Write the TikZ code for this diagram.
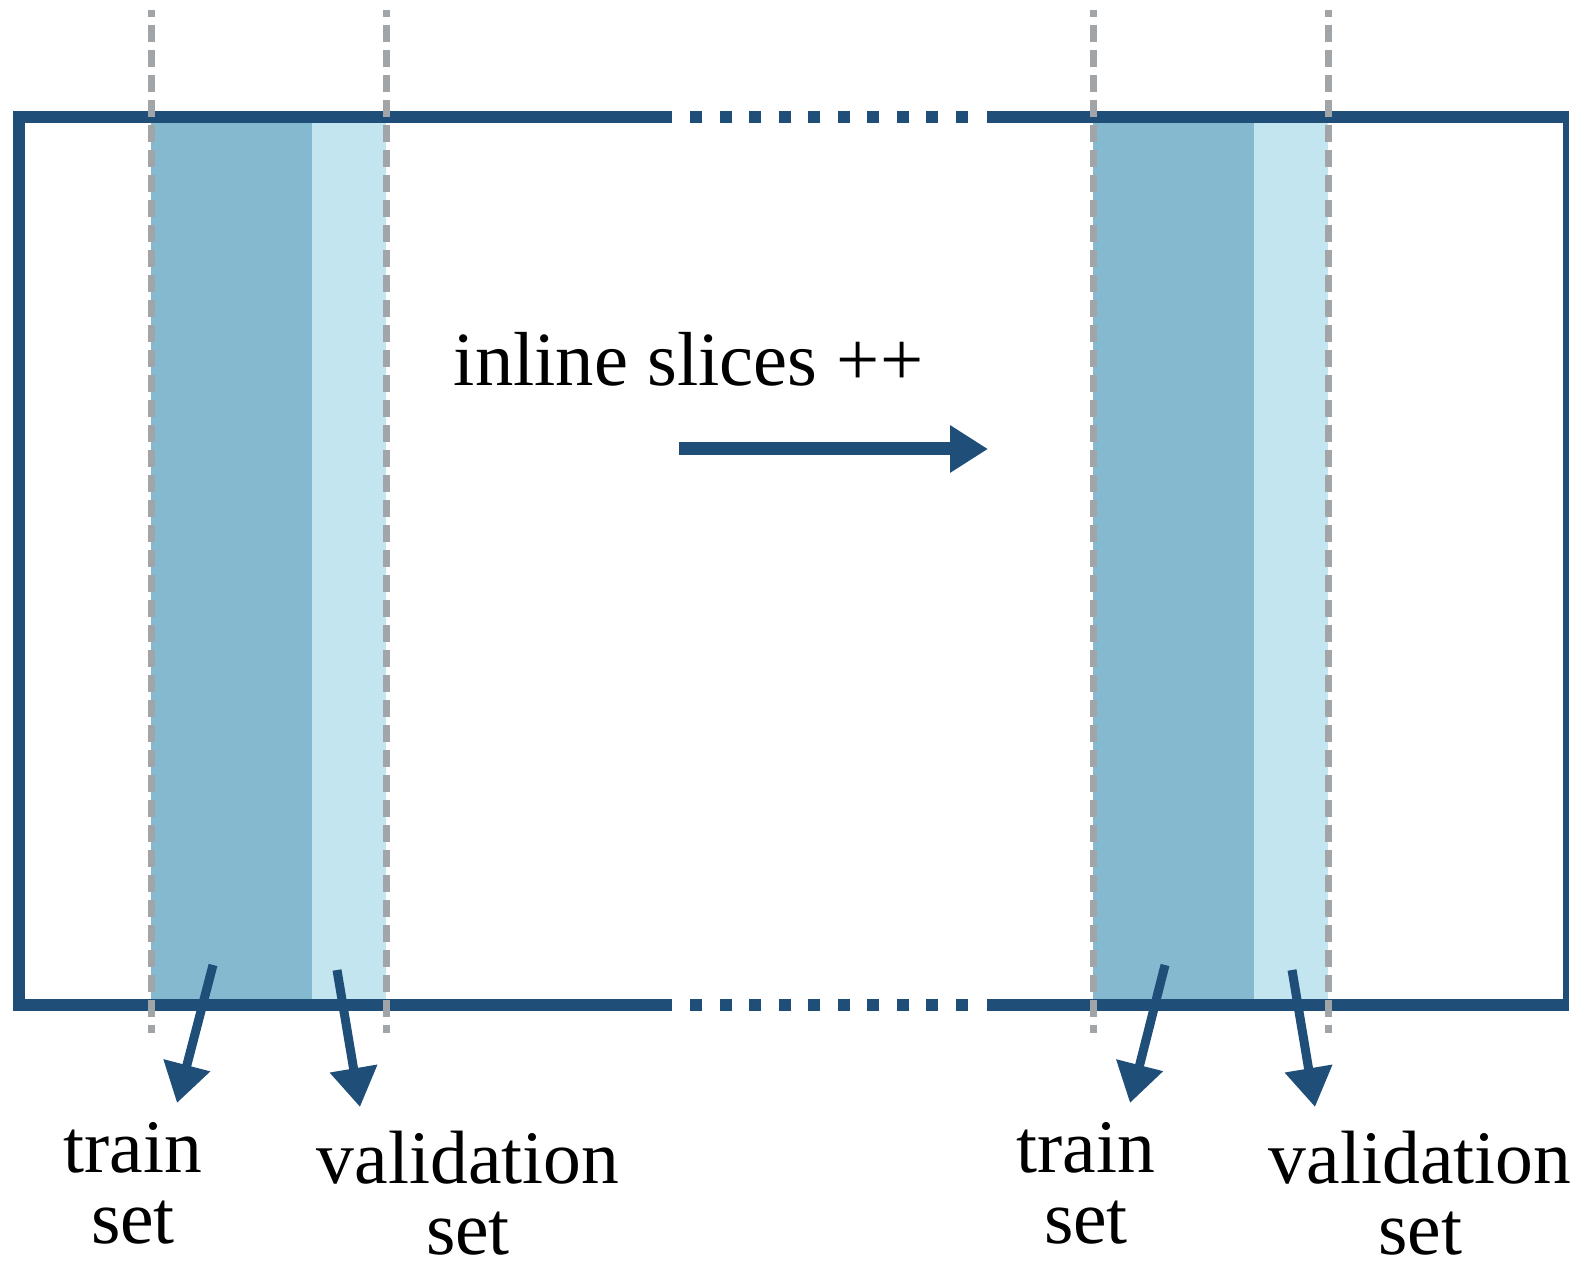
\documentclass[tikz,border=0pt]{standalone}
\usepackage{fontspec}
\setmainfont{Liberation Serif}
\usetikzlibrary{arrows.meta}
\definecolor{frameblue}{RGB}{31,78,121}
\definecolor{trainblue}{RGB}{133,185,207}
\definecolor{valblue}{RGB}{194,229,240}
\definecolor{cutgray}{RGB}{162,165,168}

\begin{document}
\begin{tikzpicture}[setlabel/.style={align=center, inner sep=0pt,
      text depth=0pt, font=\fontsize{21.5}{20}\selectfont},
    cutline/.style={cutgray, line width=0.07cm, dash pattern=on 0.17cm
      off 0.08cm, dash phase=0.1cm}, edge/.style={frameblue, line
      width=0.12cm, line join=miter}, pickarrow/.style={frameblue, line
      width=0.09cm, -{Triangle[width=0.46cm, length=0.39cm]}}]
    \useasboundingbox (0,0) rectangle (15.83,12.70);

    \begin{scope}[draw=none]
      \fill [trainblue] (1.51,2.65) rectangle (3.12,11.53); \fill
      [valblue] (3.12,2.65) rectangle (3.86,11.53);
      \fill [trainblue] (10.93,2.65) rectangle (12.54,11.53); \fill
      [valblue] (12.54,2.65) rectangle (13.28,11.53);
    \end{scope}

    \begin{scope}[edge]
      \draw (6.72,11.53) -- (0.19,11.53) -- (0.19,2.65) -- (6.72,2.65);
      \draw (9.87,11.53) -- (15.69,11.53); \draw (9.87,2.65) --
      (15.69,2.65); \draw [line width=0.065cm] (15.66,11.59) --
      (15.66,2.59);
      \draw [dash pattern=on 0.12cm off 0.1756cm] (6.90,11.53) --
      (9.68,11.53); \draw [dash pattern=on 0.12cm off 0.1756cm]
      (6.90,2.65) -- (9.68,2.65);
    \end{scope}

    \foreach \x in {1.51,3.86,10.93,13.28}
      \draw [cutline] (\x,12.60) -- (\x,2.37);

    \node [anchor=base west, inner sep=0pt,
      font=\fontsize{21.8}{25}\selectfont] (slices) at (4.53,8.84)
    {inline slices ++};
    \coordinate (slidestart) at (6.79,8.21); \coordinate (slideend) at
    (9.88,8.21);
    \draw [frameblue, line width=0.13cm, -{Triangle[width=0.45cm,
      length=0.38cm]}] (slidestart) -- (slideend);

    \node [setlabel, anchor=base] (train1) at (1.33,0.27) {train\\set};
    \node [setlabel, anchor=base] (valid1) at (4.68,0.16)
    {validation\\set}; \node [setlabel, anchor=base] (train2) at
    (10.86,0.27) {train\\set}; \node [setlabel, anchor=base] (valid2)
    at (14.20,0.16) {validation\\set};

    \coordinate (train1from) at (2.13,3.05); \coordinate (train1to) at
    (1.77,1.67); \coordinate (valid1from) at (3.37,3.00); \coordinate
    (valid1to) at (3.60,1.63); \coordinate (train2from) at
    (11.65,3.05); \coordinate (train2to) at (11.30,1.67); \coordinate
    (valid2from) at (12.92,3.00); \coordinate (valid2to) at
    (13.15,1.63);

    \begin{scope}[pickarrow]
      \draw (train1from) -- (train1to); \draw (valid1from) --
      (valid1to); \draw (train2from) -- (train2to); \draw (valid2from)
      -- (valid2to);
    \end{scope}
\end{tikzpicture}
\end{document}
